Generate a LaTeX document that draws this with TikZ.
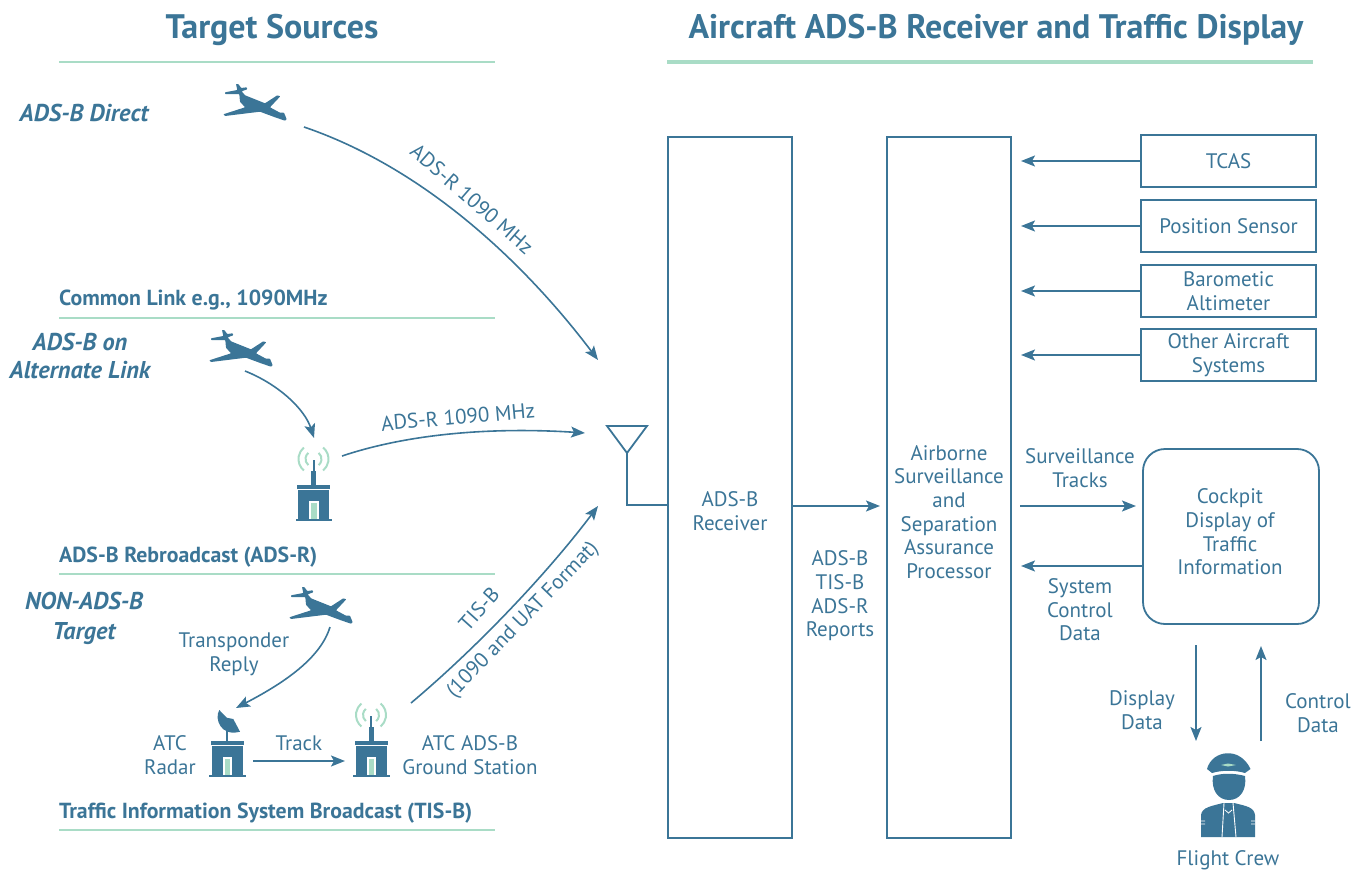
\documentclass[tikz,border=0pt]{standalone}
\usepackage{fontspec}
\setmainfont{PT Sans}
\usetikzlibrary{arrows.meta,calc}
\definecolor{adsblue}{HTML}{3B7597}
\definecolor{adsgreen}{HTML}{A9DCC6}
\tikzset{
	lbl/.style = {text = adsblue, align = center, inner sep = 0pt, font = \fontsize{21}{23.6}\selectfont},
	ttl/.style = {text = adsblue, inner sep = 0pt, font = \fontsize{34}{36}\selectfont\bfseries},
	sub/.style = {text = adsblue, inner sep = 0pt, font = \fontsize{21.8}{24}\selectfont\bfseries},
	src/.style = {text = adsblue, align = center, inner sep = 0pt, font = \fontsize{24.3}{28}\selectfont\bfseries\itshape},
	blk/.style = {draw = adsblue, line width = 2.4pt, inner sep = 0pt, outer sep = 0pt, anchor = north west},
	sys/.style = {draw = adsblue, line width = 1.8pt, text = adsblue, align = center, inner sep = 0pt, outer sep = 0pt, anchor = north west, minimum width = 175pt, minimum height = 52pt, font = \fontsize{21}{23.6}\selectfont},
	rule/.style = {draw = adsgreen, line width = 2.5pt},
	arr/.style = {draw = adsblue, line width = 1.6pt, -{Stealth[length = 14pt, width = 11pt, inset = 3pt]}},
	pics/plane/.style = {code = {
		\fill[adsblue, rounded corners = .6pt] (-19,-19) -- (-16.7,-19) -- (-13.7,-15) -- (-8.3,-15.7) -- (-7.7,-13.7) -- (-13.3,-11.7) -- (-10,-7.7) -- (10,.3) -- (22.3,-7.7) -- (25.3,-6.7) -- (15,4.3) -- (25,9.7) -- (29,9.7) -- (31.7,16.3) -- (30,17.7) -- (20,14.3) -- (5,8.7) -- (-30,13) -- (-31.7,11.3) -- (-10,4.3) -- (-15,-1.3) -- (-15.7,-9) -- (-30,-9) -- (-30,-10.7) -- (-17.7,-13) -- cycle;
	}},
	pics/hut/.style = {code = {
		\fill[adsblue] (-18,-2) rectangle (18.5,0);
		\fill[adsblue] (-15.5,-31) rectangle (15.5,-2);
		\fill[adsblue] (-16.5,-36) rectangle (16.5,-32);
		\fill[white] (-4.5,-20) rectangle (5,-2);
		\fill[adsgreen] (-2.5,-18) rectangle (3,-2);
	}},
	pics/mast/.style = {code = {
		\fill[adsblue] (-2.5,-50) rectangle (2.5,-36);
		\fill[adsblue] (-1,-61) rectangle (1,-50);
		\foreach \rad in {8,15} {
			\draw[adsgreen, line width = 2pt] ($(0,-62)+(130:\rad)$) arc (130:230:\rad);
			\draw[adsgreen, line width = 2pt] ($(0,-62)+(-50:\rad)$) arc (-50:50:\rad);
		}
	}},
}
\begin{document}
\begin{tikzpicture}[x = 1pt, y = -1pt]
	\useasboundingbox (0,0) rectangle (1366,870);

	\node[ttl] (srctitle) at (272,30) {Target Sources};
	\node[ttl] (acftitle) at (996,30) {Aircraft ADS-B Receiver and Traffic Display};
	\draw[rule] (59,62) -- (495,62);
	\draw[rule, line width = 3.4pt] (667,62) -- (1313,62);
	\draw[rule] (59,318) -- (495,318);
	\draw[rule] (59,574) -- (495,574);
	\draw[rule] (59,830) -- (495,830);

	\node[sub, anchor = west] (common) at (59,300) {Common Link e.g., 1090MHz};
	\node[sub, anchor = west] (rebroad) at (59,557) {ADS-B Rebroadcast (ADS-R)};
	\node[sub, anchor = west] (tisb) at (59,813) {Traffic Information System Broadcast (TIS-B)};
	\node[src] (direct) at (84,113) {ADS-B Direct};
	\node[src] (alter) at (80,356) {ADS-B on\\Alternate Link};
	\node[src] (nonads) at (84,618) {NON-ADS-B\\[2pt]Target};

	\pic at (255,103) {plane};
	\pic at (241,349) {plane};
	\pic at (321,606) {plane};
	\pic at (313.5,521) {hut};
	\pic at (313.5,521) {mast};
	\pic at (371,777) {hut};
	\pic at (371,777) {mast};
	\pic at (227,777) {hut};
	\fill[adsblue] (226,731) rectangle (228,741);
	\fill[adsblue] (219.3,710) .. controls (214,719) and (221,737) .. (240,731.7) -- (233.3,719) -- (226.7,717.7) -- cycle;

	\coordinate (directout) at (304,127);
	\coordinate (directin) at (598,360);
	\coordinate (altout) at (245,371);
	\coordinate (altin) at (314,438);
	\coordinate (rebout) at (342,456);
	\coordinate (rebin) at (585,433);
	\coordinate (replyout) at (330,627);
	\coordinate (replyin) at (236,708);
	\coordinate (radarout) at (253,761);
	\coordinate (radarin) at (345,761);
	\coordinate (tisout) at (411,703);
	\coordinate (tisin) at (598,506);

	\draw[arr] (directout) .. controls (430,170) and (530,270) .. (directin);
	\draw[arr] (altout) .. controls (280,385) and (305,410) .. (altin);
	\draw[arr] (rebout) .. controls (420,430) and (510,428) .. (rebin);
	\draw[arr] (replyout) .. controls (320,660) and (280,685) .. (replyin);
	\draw[arr] (radarout) -- (radarin);
	\draw[arr] (tisout) .. controls (480,645) and (550,570) .. (tisin);

	\node[lbl, rotate = -41] (adsr) at (472,199) {ADS-R 1090 MHz};
	\node[lbl, rotate = 5] (adsrtwo) at (458,417) {ADS-R 1090 MHz};
	\node[lbl, rotate = 48] (tisname) at (479,609) {TIS-B};
	\node[lbl, rotate = 46] (tisfmt) at (523,620) {(1090 and UAT Format)};
	\node[lbl] (reply) at (234,654) {Transponder\\Reply};
	\node[lbl] (atc) at (170,755) {ATC\\Radar};
	\node[lbl] (track) at (299,743) {Track};
	\node[lbl] (ground) at (470,755) {ATC ADS-B\\Ground Station};

	\node[blk, minimum width = 124pt, minimum height = 701pt] (recv) at (668,137) {};
	\node[blk, minimum width = 124pt, minimum height = 701pt] (proc) at (887,137) {};
	\node[lbl] (recvtxt) at (730,511) {ADS-B\\Receiver};
	\node[lbl] (proctxt) at (949,512) {Airborne\\Surveillance\\and\\Separation\\Assurance\\Processor};
	\node[lbl] (reports) at (840,596) {ADS-B\\TIS-B\\ADS-R\\Reports};

	\node[sys] (tcas) at (1141,135) {TCAS};
	\node[sys] (pos) at (1141,200) {Position Sensor};
	\node[sys] (baro) at (1141,265) {Barometic\\Altimeter};
	\node[sys] (other) at (1141,329) {Other Aircraft\\Systems};
	\node[blk, line width = 1.8pt, rounded corners = 22pt, minimum width = 176pt, minimum height = 175pt] (cdti) at (1143,449) {};
	\node[lbl] (cditxt) at (1230,532) {Cockpit\\Display of\\Traffic\\Information};

	\foreach \unit in {tcas, pos, baro, other} {
		\coordinate (\unit in) at (proc.east |- \unit.west);
		\draw[arr] (\unit.west) -- ($(\unit in)+(10,0)$);
	}

	\coordinate (feedtop) at (627,453);
	\coordinate (feedbot) at (627,505);
	\draw[adsblue, line width = 1.8pt] (607,426) -- (647,426) -- (feedtop) -- cycle;
	\draw[adsblue, line width = 1.8pt] (feedtop) -- (feedbot) -- (recv.west |- feedbot);

	\coordinate (link) at (880,506);
	\coordinate (sysctl) at (1021,566);
	\coordinate (disptop) at (1196,645);
	\coordinate (dispbot) at (1196,741);
	\coordinate (ctltop) at (1261,646);
	\coordinate (ctlbot) at (1261,741);
	\draw[arr] (recv.east |- link) -- (link);
	\draw[arr] ($(proc.east |- link)+(9,0)$) -- ($(cdti.west |- link)+(-7,0)$);
	\draw[arr] (cdti.west |- sysctl) -- (sysctl);
	\draw[arr] (disptop) -- (dispbot);
	\draw[arr] (ctlbot) -- (ctltop);

	\node[lbl] (tracks) at (1080,468) {Surveillance\\Tracks};
	\node[lbl] (control) at (1080,610) {System\\Control\\Data};
	\node[lbl] (display) at (1142,710) {Display\\Data};
	\node[lbl] (ctldata) at (1318,713) {Control\\Data};

	\fill[adsblue] (1207,769) .. controls (1212,750) and (1240,746) .. (1250.5,769) -- (1245,773) .. controls (1235,770) and (1222,770) .. (1212,773) -- cycle;
	\fill[adsgreen] (1221,765) -- (1228,763.5) -- (1236,765) -- (1228,766.5) -- cycle;
	\fill[adsblue] (1213,776) .. controls (1222,773) and (1234,773) .. (1245,776) .. controls (1247,790) and (1240,800) .. (1229,800) .. controls (1218,800) and (1211,790) .. (1213,776) -- cycle;
	\fill[adsblue] (1201,837) -- (1201,815) .. controls (1202,807) and (1212,806) .. (1223,803) -- (1234,803) .. controls (1246,806) and (1254,807) .. (1255,815) -- (1255,837) -- cycle;
	\draw[white, line width = .9pt] (1224,803) -- (1222,837) (1233,803) -- (1236,837) (1201,821) -- (1205,821) (1201,824) -- (1205,824) (1251,821) -- (1255,821) (1251,824) -- (1255,824);
	\draw[white, line width = .8pt] (1225,810) -- (1228.5,813) -- (1232,810);
	\node[lbl] (crew) at (1228,860) {Flight Crew};
\end{tikzpicture}
\end{document}
